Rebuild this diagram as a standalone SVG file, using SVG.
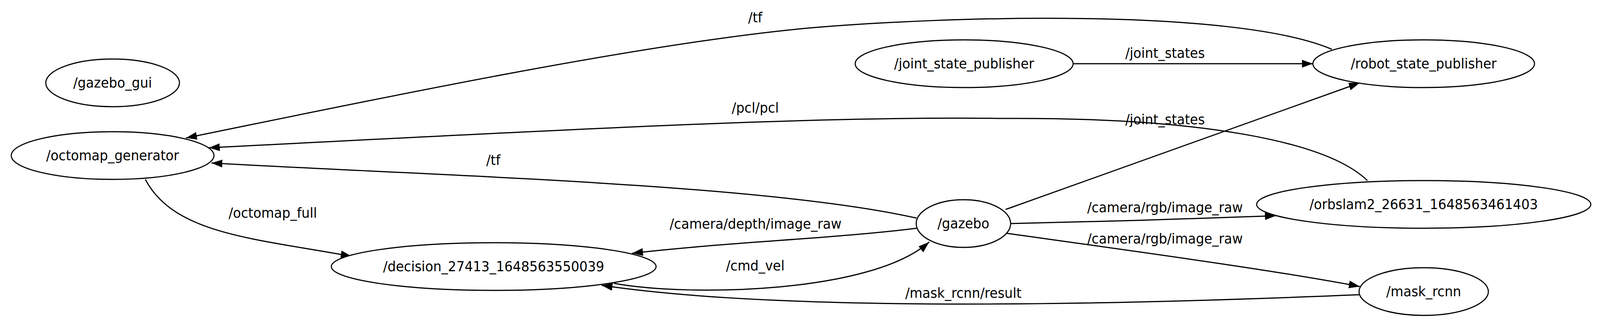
<svg xmlns="http://www.w3.org/2000/svg" width="4399" height="829" viewBox="0 0 4399 829">
<style>
.n ellipse{fill:#fff;stroke:#000;stroke-width:3}
text{font-family:"DejaVu Sans",sans-serif;font-size:36px;text-anchor:middle;dominant-baseline:central;fill:#000}
.e path{fill:none;stroke:#000;stroke-width:3}
</style>
<defs>
<marker id="a" markerUnits="userSpaceOnUse" markerWidth="32" markerHeight="22" refX="30" refY="10" orient="auto"><path d="M0,0 L30,10 L0,20 z" fill="#000"/></marker>
</defs>
<rect width="4399" height="829" fill="#fff"/>
<g transform="matrix(0.93,0,0,1,0,0)">
<g class="e" id="edges">
<path marker-end="url(#a)" d="M3666,126 C3400,20 2600,40 2200,74 C1700,120 900,280 512,353"/>
<path marker-end="url(#a)" d="M2953,163 L3614,163"/>
<path marker-end="url(#a)" d="M3764,462 C3650,360 3300,300 2761,303 C2200,296 1400,340 575,378"/>
<path marker-end="url(#a)" d="M2523,558 C2100,470 1200,450 582,417"/>
<path marker-end="url(#a)" d="M400,459 C480,600 700,610 968,656"/>
<path marker-end="url(#a)" d="M2523,584 C2300,610 2000,620 1740,648"/>
<path marker-end="url(#a)" d="M1690,725 C1900,760 2400,750 2558,619"/>
<path marker-end="url(#a)" d="M3743,754 C3200,775 2200,805 1656,730"/>
<path marker-end="url(#a)" d="M2768,536 L3743,212"/>
<path marker-end="url(#a)" d="M2782,572 C3000,568 3300,560 3512,552"/>
<path marker-end="url(#a)" d="M2772,597 C3100,640 3500,690 3743,733"/>
<g id="labels">
<text x="2079" y="45">/tf</text>
<text x="3207" y="136">/joint_states</text>
<text x="2079" y="276">/pcl/pcl</text>
<text x="1358" y="410">/tf</text>
<text x="751" y="545">/octomap_full</text>
<text x="2080" y="573">/camera/depth/image_raw</text>
<text x="2079" y="680">/cmd_vel</text>
<text x="2652" y="750">/mask_rcnn/result</text>
<text x="3207" y="306">/joint_states</text>
<text x="3207" y="531">/camera/rgb/image_raw</text>
<text x="3207" y="611">/camera/rgb/image_raw</text>
</g>
</g>
<g class="n" id="gazebo_gui"><ellipse cx="310" cy="212" rx="184" ry="61"/><text x="310" y="212">/gazebo_gui</text></g>
<g class="n" id="octomap_generator"><ellipse cx="310" cy="398" rx="279" ry="61"/><text x="310" y="398">/octomap_generator</text></g>
<g class="n" id="decision"><ellipse cx="1359" cy="682" rx="447" ry="61"/><text x="1359" y="682">/decision_27413_1648563550039</text></g>
<g class="n" id="joint_state_publisher"><ellipse cx="2654" cy="163" rx="300" ry="61"/><text x="2654" y="163">/joint_state_publisher</text></g>
<g class="n" id="robot_state_publisher"><ellipse cx="3919" cy="163" rx="305" ry="61"/><text x="3919" y="163">/robot_state_publisher</text></g>
<g class="n" id="gazebo"><ellipse cx="2652" cy="572" rx="130" ry="61"/><text x="2652" y="572">/gazebo</text></g>
<g class="n" id="orbslam2"><ellipse cx="3919" cy="523" rx="460" ry="61"/><text x="3919" y="523">/orbslam2_26631_1648563461403</text></g>
<g class="n" id="mask_rcnn"><ellipse cx="3919" cy="746" rx="178" ry="61"/><text x="3919" y="746">/mask_rcnn</text></g>
</g>
</svg>
